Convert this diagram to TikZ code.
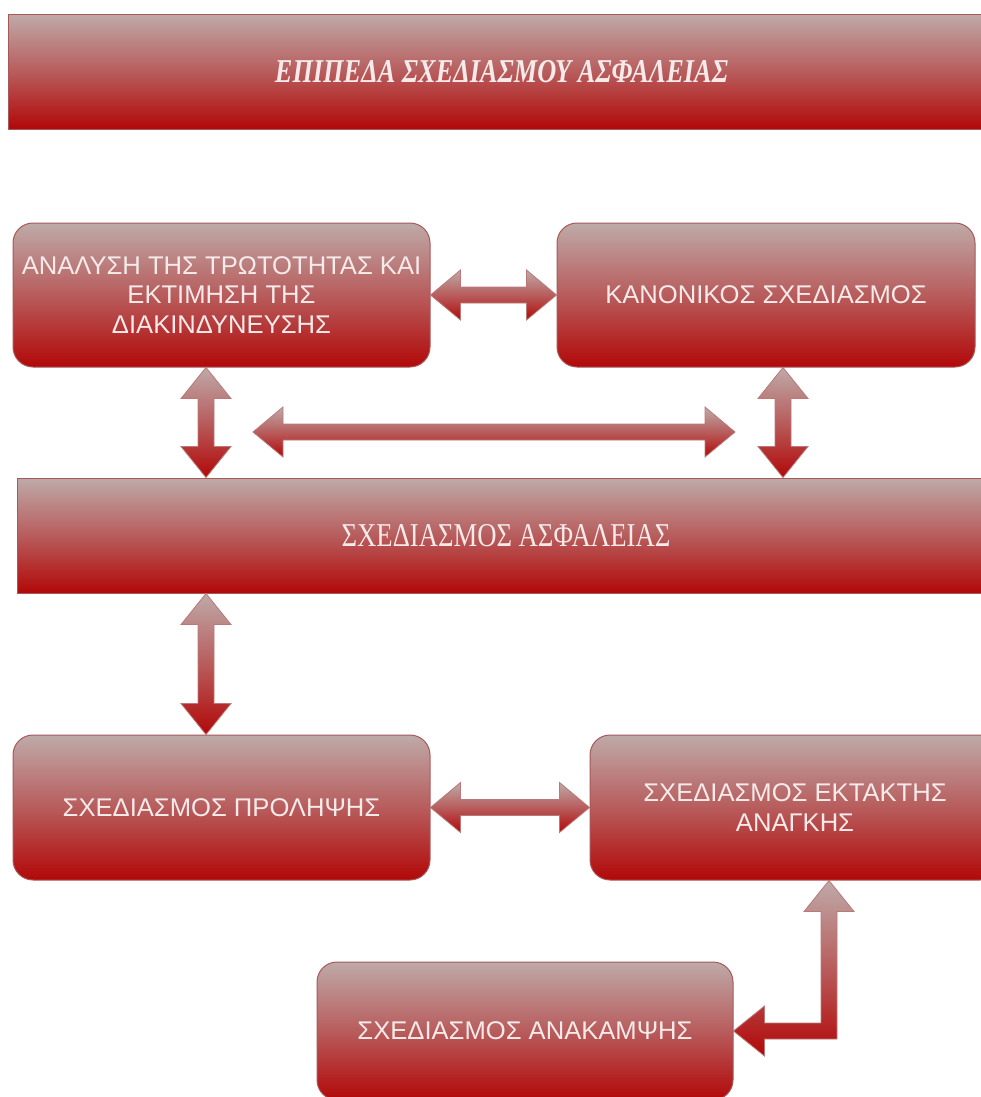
\documentclass[tikz,border=0pt]{standalone}
\usepackage{fontspec}
\setmainfont{Liberation Serif}
\newfontfamily\boxfont{Liberation Sans}
\usetikzlibrary{calc}
\definecolor{gtop}{RGB}{190,170,168}
\definecolor{gmid}{RGB}{184,92,92}
\definecolor{gbot}{RGB}{178,8,8}
\definecolor{gedge}{RGB}{168,88,88}
\definecolor{txt}{RGB}{246,234,234}
\tikzset{
 shadefill/.style={top color=gtop, bottom color=gbot, middle color=gmid, draw=gedge, line width=0.75pt},
 rbox/.style={shadefill, rounded corners=15pt, inner sep=0pt, text=txt, font=\boxfont\fontsize{19.2}{22}\selectfont, align=center},
 sbox/.style={shadefill, inner sep=0pt, text=txt, align=center},
 dims/.style 2 args={minimum width=#1*0.75pt, minimum height=#2*0.75pt},
 arr/.style={shadefill, line width=0.6pt, draw=gedge!80!white},
}
\newcommand\dblH[2]{\path[arr] (#1) -- ($(#1)+(30,-25)$) -- ($(#1)+(30,-8)$) -- ($(#2)+(-30,-8)$) -- ($(#2)+(-30,-25)$) -- (#2) -- ($(#2)+(-30,25)$) -- ($(#2)+(-30,8)$) -- ($(#1)+(30,8)$) -- ($(#1)+(30,25)$) -- cycle;}
\newcommand\dblV[2]{\path[arr] (#1) -- ($(#1)+(25,31)$) -- ($(#1)+(8,31)$) -- ($(#2)+(8,-31)$) -- ($(#2)+(25,-31)$) -- (#2) -- ($(#2)+(-25,-31)$) -- ($(#2)+(-8,-31)$) -- ($(#1)+(-8,31)$) -- ($(#1)+(-25,31)$) -- cycle;}
\begin{document}
\begin{tikzpicture}[x=0.75pt,y=-0.75pt]
\useasboundingbox (0,0) rectangle (981,1097);
\node[sbox, dims={987}{115}] (title) at (501.5,71.5)
  {\fontsize{25}{29}\selectfont\bfseries\itshape\scalebox{0.79}[1]{ΕΠΙΠΕΔΑ ΣΧΕΔΙΑΣΜΟΥ ΑΣΦΑΛΕΙΑΣ}};
\node[rbox, dims={417}{144}] (A) at (221.5,295)
  {ΑΝΑΛΥΣΗ ΤΗΣ ΤΡΩΤΟΤΗΤΑΣ ΚΑΙ\\ΕΚΤΙΜΗΣΗ ΤΗΣ\\ΔΙΑΚΙΝΔΥΝΕΥΣΗΣ};
\node[rbox, dims={418}{144}] (B) at (766,295) {ΚΑΝΟΝΙΚΟΣ ΣΧΕΔΙΑΣΜΟΣ};
\node[sbox, dims={978}{115}] (mid) at (506,535.5)
  {\fontsize{25}{29}\selectfont\scalebox{0.8}[1]{ΣΧΕΔΙΑΣΜΟΣ ΑΣΦΑΛΕΙΑΣ}};
\node[rbox, dims={417}{145}] (C) at (221.5,807.5) {ΣΧΕΔΙΑΣΜΟΣ ΠΡΟΛΗΨΗΣ};
\node[rbox, dims={410}{145}] (D) at (795,807.5) {ΣΧΕΔΙΑΣΜΟΣ ΕΚΤΑΚΤΗΣ\\ΑΝΑΓΚΗΣ};
\node[rbox, dims={416}{138}] (E) at (525,1031) {ΣΧΕΔΙΑΣΜΟΣ ΑΝΑΚΑΜΨΗΣ};
% arrows
\dblH{A.east}{B.west}
\dblH{C.east}{D.west}
\coordinate (la) at (253,432);
\coordinate (ra) at (735,432);
\dblH{la}{ra}
\coordinate (v1t) at ($(A.south)+(-15.5,0)$);
\coordinate (v1b) at (v1t |- mid.north);
\dblV{v1t}{v1b}
\coordinate (v2t) at ($(B.south)+(17,0)$);
\coordinate (v2b) at (v2t |- mid.north);
\dblV{v2t}{v2b}
\coordinate (v3t) at (v1t |- mid.south);
\coordinate (v3b) at (v1t |- C.north);
\dblV{v3t}{v3b}
\coordinate (et) at ($(D.south)+(34,0)$);
\coordinate (ek) at (et |- E.east);
\path[arr] (et) -- ($(et)+(25,31)$) -- ($(et)+(8,31)$) -- ($(ek)+(8,8)$)
  -- ($(E.east)+(31,8)$) -- ($(E.east)+(31,25)$) -- (E.east)
  -- ($(E.east)+(31,-25)$) -- ($(E.east)+(31,-8)$) -- ($(ek)+(-8,-8)$)
  -- ($(et)+(-8,31)$) -- ($(et)+(-25,31)$) -- cycle;
\end{tikzpicture}
\end{document}
